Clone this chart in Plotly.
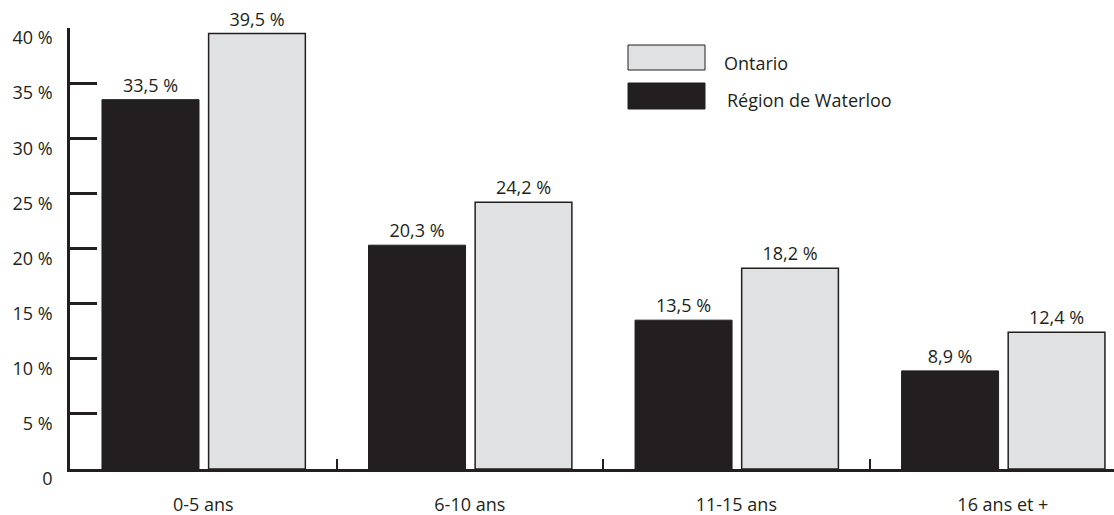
import plotly.graph_objects as go

# Distribution by age group, Waterloo Region vs. Ontario
categories = ["0-5 ans", "6-10 ans", "11-15 ans", "16 ans et +"]
waterloo = [33.5, 20.3, 13.5, 8.9]
ontario = [39.5, 24.2, 18.2, 12.4]
series_names = ["Région de Waterloo", "Ontario"]
y_tickvals = [0, 5, 10, 15, 20, 25, 30, 35, 40]
y_ticktext = ["0", "5 %", "10 %", "15 %", "20 %", "25 %", "30 %", "35 %", "40 %"]

INK = "#231f20"
GREY = "#e0e1e3"
FONT = "Open Sans"
FS = 18

fig = go.Figure()
fig.add_trace(go.Bar(
    x=categories, y=waterloo, name=series_names[0],
    offset=-0.38, width=0.364,
    marker=dict(color=INK, line=dict(color=INK, width=1)),
    texttemplate="%{y:.1f} %", textposition="outside", cliponaxis=False,
    textfont=dict(family=FONT, size=FS, color=INK),
    showlegend=False,
))
fig.add_trace(go.Bar(
    x=categories, y=ontario, name=series_names[1],
    offset=0.02, width=0.363,
    marker=dict(color=GREY, line=dict(color=INK, width=1.5)),
    texttemplate="%{y:.1f} %", textposition="outside", cliponaxis=False,
    textfont=dict(family=FONT, size=FS, color=INK),
    showlegend=False,
))

# Custom legend: large swatches with labels (pixel positions converted to paper)
def px_x(p):
    return (p - 70) / 1044


def px_y(p):
    return (469 - p) / 441


legend_items = [(series_names[1], GREY, 45, 70, 722, 63),
                (series_names[0], INK, 83, 109, 725, 100)]
for label, color, top, bottom, tx, ty in legend_items:
    fig.add_shape(type="rect", xref="paper", yref="paper",
                  x0=px_x(628), x1=px_x(705), y0=px_y(bottom), y1=px_y(top),
                  fillcolor=color, line=dict(color=INK, width=1))
    fig.add_annotation(xref="paper", yref="paper", x=px_x(tx), y=px_y(ty),
                       text=label, showarrow=False, xanchor="left", yanchor="middle",
                       font=dict(family=FONT, size=FS, color=INK))

fig.update_layout(
    width=1114, height=515,
    margin=dict(l=70, r=0, t=28, b=46),
    plot_bgcolor="white", paper_bgcolor="white",
    separators=", ",
    barmode="overlay",
    font=dict(family=FONT, size=FS, color=INK),
)
fig.update_xaxes(
    type="category", range=[-0.5, 3.417],
    showline=True, linecolor=INK, linewidth=2.5,
    ticks="inside", tickson="boundaries", ticklen=10, tickwidth=2, tickcolor=INK,
    showgrid=False, zeroline=False,
    ticklabelstandoff=18,
    tickfont=dict(family=FONT, size=FS, color=INK),
)
fig.update_yaxes(
    range=[0, 40], tickvals=y_tickvals, ticktext=y_ticktext,
    showline=True, linecolor=INK, linewidth=2.5,
    ticks="inside", ticklen=27, tickwidth=2.5, tickcolor=INK,
    showgrid=False, zeroline=False,
    ticklabelshift=10, ticklabelstandoff=11,
    tickfont=dict(family=FONT, size=FS, color=INK),
)

fig.write_html("out.html")
